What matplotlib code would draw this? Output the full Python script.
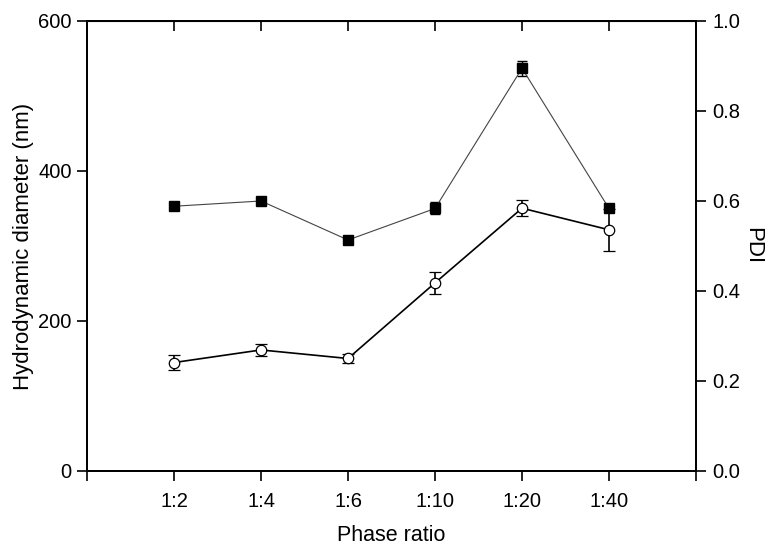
#!/usr/bin/env python3
"""Hydrodynamic diameter and PDI vs phase ratio."""

import matplotlib
matplotlib.use("Agg")
import matplotlib.pyplot as plt
import numpy as np

ratios = ["1:2", "1:4", "1:6", "1:10", "1:20", "1:40"]
diameter = [353, 360, 308, 350, 537, 350]
diameter_err = [3, 3, 3, 8, 10, 3]
pdi = [0.241, 0.269, 0.250, 0.418, 0.584, 0.536]
pdi_err = [0.017, 0.013, 0.010, 0.025, 0.018, 0.047]

plt.rcParams.update({"font.family": ["Liberation Sans", "DejaVu Sans"], "font.size": 14})

fig, ax = plt.subplots(figsize=(7.81, 5.51), dpi=100)
fig.subplots_adjust(left=0.1114, right=0.8912, top=0.9619, bottom=0.1452)
ax2 = ax.twinx()

x = np.arange(1, len(ratios) + 1)

ax.errorbar(x, diameter, yerr=diameter_err, color="#444444", lw=0.8, marker="s", ms=7,
            mfc="black", mec="black", ecolor="black", elinewidth=1.0, capsize=3.5, capthick=1.0)
ax2.errorbar(x, pdi, yerr=pdi_err, color="black", lw=1.2, marker="o", ms=7.5,
             mfc="white", mec="black", mew=0.9, ecolor="black", elinewidth=1.2,
             capsize=4, capthick=1.2)

ax.set_xlim(0, 7)
ax.set_ylim(0, 600)
ax2.set_ylim(0, 1.0)
ax.set_xticks(range(0, 8))
ax.set_xticklabels([""] + ratios + [""])
ax.set_yticks([0, 200, 400, 600])
ax2.set_yticks([0.0, 0.2, 0.4, 0.6, 0.8, 1.0])
ax2.set_yticklabels([f"{v:.1f}" for v in [0.0, 0.2, 0.4, 0.6, 0.8, 1.0]])

ax.tick_params(axis="both", direction="out", length=7, width=1.2, pad=4, labelsize=14.5)
ax.tick_params(axis="x", pad=8)
ax2.tick_params(axis="y", direction="out", length=7, width=1.2, pad=5, labelsize=14.5)

for spine in list(ax.spines.values()) + list(ax2.spines.values()):
    spine.set_linewidth(1.3)

# inward ticks along the top edge
top = ax.secondary_xaxis("top")
top.set_xticks(list(x))
top.set_xticklabels([])
top.tick_params(direction="in", length=7, width=1.2)

ax.set_xlabel("Phase ratio", fontsize=15.5, labelpad=10)
ax.set_ylabel("Hydrodynamic diameter (nm)", fontsize=16, labelpad=3)
ax2.set_ylabel("PDI", fontsize=16, rotation=270, labelpad=16)

fig.savefig("out.png", dpi=100)
plt.close(fig)
